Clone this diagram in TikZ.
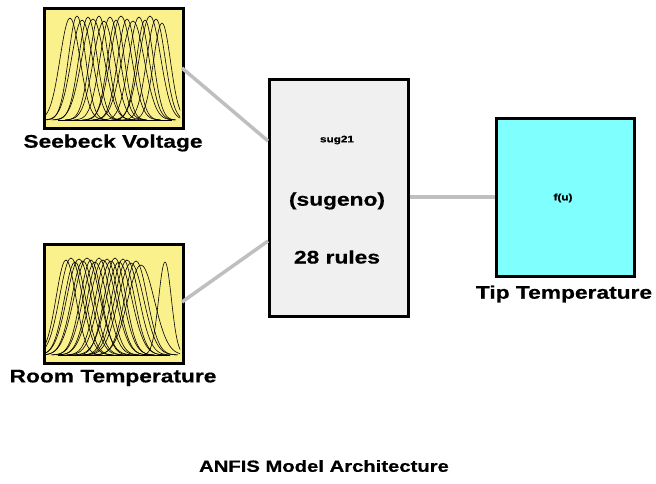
\documentclass[tikz,border=0pt]{standalone}
\usepackage{fontspec}
\setmainfont{Liberation Sans}
\newfontfamily\widefont[FakeStretch=1.25,FakeBold=0.6]{Liberation Sans Bold}
\begin{document}
\begin{tikzpicture}[x=1pt,y=-1pt,
  blk/.style={draw=black,line width=2.6pt,inner sep=0pt,anchor=north west},
  lbl/.style={font=\widefont\fontsize{18.2}{20}\selectfont,inner sep=0pt},
  ttl/.style={font=\widefont\fontsize{16.2}{18}\selectfont,inner sep=0pt},
  tiny/.style={font=\widefont\fontsize{9.4}{11}\selectfont,inner sep=0pt},
  wire/.style={draw=black!25,line width=3.5pt},
  mf/.style={draw=black,line width=0.6pt}]
\useasboundingbox (0,0) rectangle (656,484);
\fill[white] (0,0) rectangle (656,484);
% boxes
\node[blk,fill={rgb,255:red,250;green,240;blue,140},minimum width=139pt,minimum height=120pt] (sv) at (43,7) {};
\node[blk,fill={rgb,255:red,250;green,240;blue,140},minimum width=139pt,minimum height=119pt] (rt) at (43,243) {};
\node[blk,fill={rgb,255:red,240;green,240;blue,240},minimum width=139pt,minimum height=237pt] (fis) at (268,78) {};
\node[blk,fill={rgb,255:red,128;green,255;blue,255},minimum width=138pt,minimum height=158pt] (out) at (495,117) {};
% labels
\node[lbl] (svl) at (113,143) {Seebeck Voltage};
\node[lbl] (rtl) at (113,378) {Room Temperature};
\node[lbl] (outl) at (564,294) {Tip Temperature};
\node[tiny] (s21) at (337,140) {sug21};
\node[lbl] (sug) at (337,201) {(sugeno)};
\node[lbl] (rules) at (337,257) {28 rules};
\node[tiny] (fu) at (563,198) {f(u)};
\node[ttl] (title) at (324,466) {ANFIS Model Architecture};
% connectors
\coordinate (a1) at (182,68);
\coordinate (a2) at (268,141);
\coordinate (b1) at (182,302);
\coordinate (b2) at (268,241);
\draw[wire] (a1) -- (a2);
\draw[wire] (b1) -- (b2);
\draw[wire] (fis.east |- 0,197) -- (out.west |- 0,197);
% membership functions: Seebeck
\begin{scope}
\clip (45,9) rectangle (180,125);
\draw[mf] (58,120) -- (172,120);
\foreach \c/\s/\h in {70/14/102,77/12/104,82/15/100,88/13/103,93/16/101,99/13/104,104/15/99,110/14/103,116/12/100,121/15/104,127/13/101,133/16/99,139/14/103,145/12/100,150/15/104,156/13/101,162/12/97}{
  \draw[mf] plot[domain=(\c-2.6*\s):(\c+2.6*\s),samples=45,smooth] (\x,{120-\h*exp(-((\x-\c)/\s)^2)});
}
\end{scope}
% membership functions: Room
\begin{scope}
\clip (45,245) rectangle (180,360);
\draw[mf] (58,355) -- (170,355);
\foreach \c/\s/\h in {66/14/95,71/16/97,75/15/93,79/17/96,83/16/94,87/18/97,91/15/95,95/17/93,99/16/97,103/18/95,107/16/96,111/17/94,115/15/97,119/18/93,123/16/96,127/17/95,131/18/92,136/16/94,141/19/90}{
  \draw[mf] plot[domain=(\c-2.6*\s):(\c+2.6*\s),samples=45,smooth] (\x,{355-\h*exp(-((\x-\c)/\s)^2)});
}
\draw[mf] plot[domain=145:185,samples=45,smooth] (\x,{355-93*exp(-((\x-165)/9)^2)});
\end{scope}
\end{tikzpicture}
\end{document}
